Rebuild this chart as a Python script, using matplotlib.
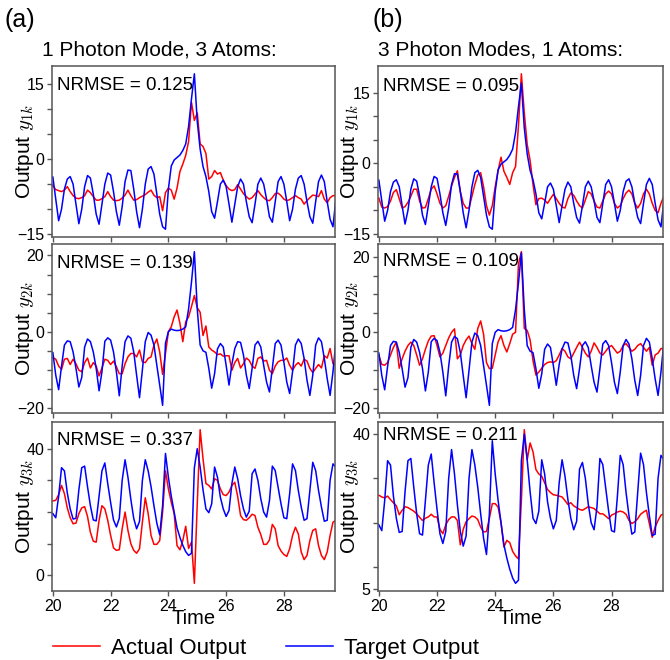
import numpy as np
import matplotlib
matplotlib.use("Agg")
import matplotlib.pyplot as plt
from matplotlib.ticker import FixedLocator

plt.rcParams["font.family"] = ["Liberation Sans", "DejaVu Sans"]
plt.rcParams["mathtext.fontset"] = "cm"

# --- time axis (step 0.1)
time = np.round(np.arange(20.0, 29.85, 0.1), 1)

# --- target outputs (same targets for both reservoirs)
target_y1 = [-3.6, -8, -12.3, -10, -6, -4, -3.5, -5, -9, -12.9,
             -10, -5.5, -3.3, -3.8, -7, -11, -13, -9, -5, -2.8,
             -3.2, -6.5, -10.5, -13.2, -9.5, -4.5, -2.2, -2.3, -6, -10.5,
             -13.7, -10, -5, -2, -1.5, -3, -7, -11, -13.5, -14,
             -6, -1.4, -0.2, 0.3, 0.8, 1.7, 3, 6.5, 12, 17,
             7.5, 2, -1.5, -3.5, -6.5, -10.5, -11.8, -8.5, -5, -4.2,
             -5.5, -9, -12.6, -9, -5.5, -4, -5, -8.5, -11.5, -12.7,
             -9, -5, -3.8, -5, -8, -11.5, -12.6, -8.5, -4.5, -3.5,
             -5, -8.5, -12.3, -10, -6, -3.8, -3.3, -5, -8.5, -11.5,
             -12.8, -8.5, -4.5, -3.2, -4.5, -8.5, -12, -13.5, -8]
target_y2 = [-5.5, -11.4, -15.2, -9, -3.5, -2.4, -2.6, -5.3, -9.6, -14.5,
             -12, -4, -1.9, -2.6, -5.3, -9.6, -15.5, -10.5, -2.5, -1.6,
             -2.2, -5.3, -10.5, -16.8, -9, -2.6, -1.1, -1.7, -5.3, -11.4,
             -17.3, -10, -2.6, -0.2, -0.9, -3.5, -8.8, -14, -19.3, -3,
             0, 0.7, 0.4, 0.3, 0.4, 0.7, 1.3, 6, 13, 21,
             6, -3.5, -5, -5.4, -9.6, -14.8, -11, -4.5, -3.1, -4,
             -8.8, -14, -8.5, -4.4, -2.6, -2.8, -6.1, -11.4, -14.9, -9.6,
             -3.5, -2.5, -4, -8.8, -13.2, -15.8, -9.6, -3.1, -2.2, -3.5,
             -8, -13.2, -16.2, -10.5, -3.5, -1.9, -3.1, -7, -12.7, -16.7,
             -11.4, -3.5, -1.6, -2.6, -7, -12.3, -16.7, -10.5, -2.6]
target_y3 = [19.5, 18.2, 25, 34, 33, 26, 21, 17.8, 18, 27,
             34, 34.5, 28, 22, 17.5, 17.2, 25, 33, 35.5, 29,
             23, 17.5, 15.3, 18, 30, 36.5, 31, 24, 18, 14.7,
             17, 30, 36.5, 33, 28, 22, 16.5, 12.8, 22, 38.5,
             31, 25, 20, 15, 12, 9.5, 7.5, 6.3, 7, 34,
             40, 34.2, 27, 21, 19.8, 22.6, 34.2, 31, 24.7, 21,
             18.6, 20.5, 29, 34.2, 30.5, 25.2, 21, 18.4, 20.3, 32.1,
             33.6, 30, 24.2, 20, 18.4, 23.6, 34.5, 33.1, 27.8, 22.6,
             18.2, 17.9, 25.8, 35.2, 33.1, 26.8, 21.6, 17.4, 17.9, 26.8,
             35.7, 33.1, 26.8, 21.6, 17.1, 17.4, 30, 35.2, 34.2]

# --- actual outputs, (a) 1 photon mode, 3 atoms
actual_y1_a = [-5.3, -6.1, -6.3, -6.5, -6.2, -5.5, -6.5, -7.3, -7.8, -7.9,
               -7.7, -7.3, -6.2, -6.7, -7.5, -8.2, -8.2, -7.9, -7.5, -6.5,
               -7.5, -8.2, -8.3, -8.2, -7.8, -7.2, -6.2, -7.3, -8.2, -8.1,
               -7.7, -7.4, -7.1, -6.6, -6.2, -7.2, -7.7, -7.5, -10.3, -6.7,
               -5.8, -6.2, -8, -5.8, -2.5, -1, 0.7, 3.5, 11.3, 7.7,
               9.2, 3, 2.5, 1.1, -4, -3.5, -2.3, -3, -2.7, -4.2,
               -5.3, -6, -6.3, -6.1, -5.1, -6, -6.9, -7.5, -8, -7.7,
               -7, -6.3, -7.1, -7.7, -8.2, -8.3, -7.7, -6.9, -6.8, -7.3,
               -8, -8.3, -8.1, -7.7, -7.3, -7.7, -8, -9, -8.3, -7.7,
               -7.2, -7.3, -7.5, -6.3, -8, -8.7, -7.7, -7.3, -7.3]
actual_y2_a = [-6.8, -7.2, -9, -9.9, -7.2, -7, -8.6, -7.2, -8.4, -10.1,
               -10.5, -8.1, -6.9, -9.5, -8.1, -9, -11.6, -9.5, -7.2, -7.5,
               -8.6, -7.7, -9.2, -11, -11, -8.4, -6.6, -5.7, -5.7, -6.6,
               -4.8, -7.9, -8.1, -7, -6.6, -3.5, -1.9, -5.3, -11.2, -5.7,
               0, 1.3, 3.9, 5.7, 2.2, -2.6, 2.6, 3.9, 6.6, 9.5,
               6.3, 5.1, -1, 1.5, -4, -4.8, -5.3, -6, -5.8, -6.4,
               -6.3, -6.3, -10.1, -8.1, -7, -9.5, -8.4, -6.9, -7.5, -9,
               -9.6, -7, -6.6, -7.7, -7.5, -10.1, -11, -9, -7.9, -7.5,
               -7.5, -6.9, -8.8, -10.1, -8.8, -8.1, -9, -7.2, -7.7, -9.6,
               -10.7, -9.6, -8.6, -9.5, -6.3, -6.9, -4.4, -8.4, -8.8]
actual_y3_a = [23.5, 23.7, 25.5, 28.4, 25.8, 21.3, 18.2, 16.3, 16.5, 19.5,
               21.3, 21.7, 18.6, 13.6, 10.8, 10.5, 17.4, 22, 21, 17.4,
               12.6, 8.7, 7.9, 8.1, 14.7, 20, 14.2, 10, 7.9, 7,
               8.4, 16.8, 24.5, 19.5, 12.6, 9.8, 9.8, 11, 20, 33,
               27.3, 23.1, 19.5, 9.4, 8.1, 11, 15.5, 8.5, 10.5, -2.5,
               22.6, 46, 36.8, 29, 28.4, 27.3, 30.5, 30, 27.3, 25.5,
               25.2, 26.3, 28.4, 29.4, 24.9, 18.9, 17.6, 17.4, 18.2, 19.3,
               18.9, 15.2, 12.9, 9.8, 9.8, 11.2, 16.1, 14.7, 9.4, 7.7,
               6.6, 6, 8.4, 12.6, 15.2, 13.1, 7.4, 5, 6.3, 11,
               14.2, 14.7, 9.4, 6.3, 5, 7.4, 12.6, 16.8, 17.4]

# --- actual outputs, (b) 3 photon modes, 1 atom
actual_y1_b = [-7.4, -9.3, -9.5, -9.2, -8, -6.2, -5.6, -7.5, -9.5, -9.2,
               -8.3, -7, -5.5, -5.5, -8, -9.5, -9.4, -7.5, -5.5, -4.8,
               -6.5, -8.5, -9.5, -9, -7, -4.8, -3, -1.6, -6, -8.5,
               -9.5, -9.5, -7, -4.5, -2.5, -2, -5, -9, -11, -9,
               -5, -1.5, 1.3, -1.7, -3, -4.5, -2, -0.7, 8, 19,
               10.7, 4, 0.6, -4.5, -8.8, -7.5, -7.4, -7.8, -8.5, -7.5,
               -6.6, -7.5, -8.5, -9.3, -9.5, -7.5, -6.3, -6.8, -8, -9,
               -9.5, -7.8, -6, -6.5, -8, -9.3, -9.5, -8, -6.5, -5.9,
               -6.5, -8.5, -9.5, -9, -7.5, -6.3, -5.7, -6.5, -8.5, -9.5,
               -8.5, -6.5, -5.5, -6.5, -8.5, -10, -10.5, -8.5, -7]
actual_y2_b = [-6.1, -8.5, -8.7, -8, -6, -4, -2.6, -9.5, -7, -5,
               -3.5, -2.6, -3.5, -6, -8.7, -7, -4.5, -2.3, -1, -0.9,
               -3.5, -6.5, -5.5, -3.5, -1.5, 0, 0.9, -7, -6, -3.5,
               -2, -1, -3, -4.5, 1, 3, -0.5, -8, -9.6, -9.5,
               -6, -2.5, -0.9, -3.5, -5.2, -3, -0.5, 0, 18, 21.3,
               1, 0.5, -2, -7.5, -11.3, -10.5, -9.5, -8.5, -8, -7.8,
               -8, -7.5, -6, -4.3, -5, -6.5, -7, -5.5, -4, -2.6,
               -4, -5.5, -6.5, -5, -2.8, -4, -5.5, -6, -5, -4,
               -3.5, -4.5, -5.5, -5, -3.5, -3, -4, -5, -4.5, -3.5,
               -3, -4, -5, -4, -8.7, -6, -5.5, -4.3, -4.3]
actual_y3_b = [26.2, 25.8, 25.6, 26, 25.2, 24.5, 23.8, 21.8, 22.8, 23.6,
               23.4, 23, 22.6, 22, 21.2, 20.5, 21, 21.3, 21.9, 21.3,
               21.3, 18.5, 17.5, 19.5, 20.7, 21.3, 21.3, 20.5, 15, 18.5,
               20.2, 20.9, 21.5, 21.3, 20.7, 19, 17.9, 18, 21, 24.3,
               24.3, 23.5, 20, 14.5, 16, 15.5, 13.5, 12.5, 11.8, 25,
               41, 34.2, 38, 36, 32, 31, 30.5, 29, 27.5, 26.8,
               26.3, 26.2, 26, 25.8, 25, 24.1, 24.5, 23.8, 23.4, 23,
               22.8, 23.2, 23.6, 23.4, 23.2, 22.6, 22, 22, 21.5, 20.9,
               21.7, 22, 22.4, 22.6, 22.4, 21.9, 20.5, 19.8, 20.2, 20.9,
               21.9, 22.4, 22.8, 19.8, 16.7, 19, 20.5, 21.7, 22]

ylabels = [r"Output $y_{1k}$", r"Output $y_{2k}$", r"Output $y_{3k}$"]
nrmse_a = ["0.125", "0.139", "0.337"]
nrmse_b = ["0.095", "0.109", "0.211"]

# --- layout
fig = plt.figure(figsize=(6.7, 6.6), dpi=100)
W, H = 670, 660
col_x = [(52, 283), (378, 285)]
row_y = [(66, 171), (244, 169), (422, 169)]

targets = [target_y1, target_y2, target_y3]
actuals = [[actual_y1_a, actual_y2_a, actual_y3_a],
           [actual_y1_b, actual_y2_b, actual_y3_b]]
nrmses = [nrmse_a, nrmse_b]
major_y = [[[-15, 0, 15], [-20, 0, 20], [0, 40]],
           [[-15, 0, 15], [-20, 0, 20], [5, 40]]]
minor_y = [[list(range(-15, 20, 5)), list(range(-20, 25, 5)), [10, 20, 30]],
           [list(range(-15, 20, 5)), list(range(-20, 25, 5)), [10, 20, 30]]]
text_y = [[0.937, 0.933, 0.943], [0.929, 0.945, 0.972]]
label_x = [-0.058, -0.058]
spine_col = "#555555"

for c in range(2):
    x0, w = col_x[c]
    for r in range(3):
        y0, h = row_y[r]
        ax = fig.add_axes([x0 / W, 1 - (y0 + h) / H, w / W, h / H])
        ax.plot(time, actuals[c][r], color="red", lw=1.1)
        ax.plot(time, targets[r], color="blue", lw=1.1)
        ax.set_xlim(19.97, 29.77)
        ax.set_xticks([20, 22, 24, 26, 28])
        ax.yaxis.set_major_locator(FixedLocator(major_y[c][r]))
        ax.yaxis.set_minor_locator(FixedLocator(minor_y[c][r]))
        ax.tick_params(which="both", direction="out", length=3.5, width=1,
                       color=spine_col, labelsize=11.5, pad=2,
                       top=False, right=False)
        if r < 2:
            ax.tick_params(axis="x", labelbottom=False)
        else:
            ax.set_xlabel("Time", fontsize=14.5, labelpad=-3)
        for s in ax.spines.values():
            s.set_color(spine_col)
            s.set_linewidth(1.1)
        ax.set_ylabel(ylabels[r], fontsize=15)
        ax.yaxis.set_label_coords(label_x[c], 0.5)
        ax.text(0.016, text_y[c][r], "NRMSE = " + nrmses[c][r],
                transform=ax.transAxes, fontsize=13.5, va="top", ha="left")

fig.text(5 / W, 1 - 20 / H, "(a)", fontsize=18, va="center", ha="left")
fig.text(372 / W, 1 - 20 / H, "(b)", fontsize=18, va="center", ha="left")
fig.text(42 / W, 1 - 50 / H, "1 Photon Mode, 3 Atoms:", fontsize=15,
         va="center", ha="left")
fig.text(378 / W, 1 - 50 / H, "3 Photon Modes, 1 Atoms:", fontsize=15,
         va="center", ha="left")

handles = [plt.Line2D([], [], color="red", lw=1.1),
           plt.Line2D([], [], color="blue", lw=1.1)]
fig.legend(handles, ["Actual Output", "Target Output"], loc="center",
           bbox_to_anchor=(0.397, 0.018), ncol=2, frameon=False, fontsize=16,
           handlelength=2.1, handletextpad=0.5, columnspacing=1.8,
           borderpad=0)

fig.savefig("out.png", dpi=100)
